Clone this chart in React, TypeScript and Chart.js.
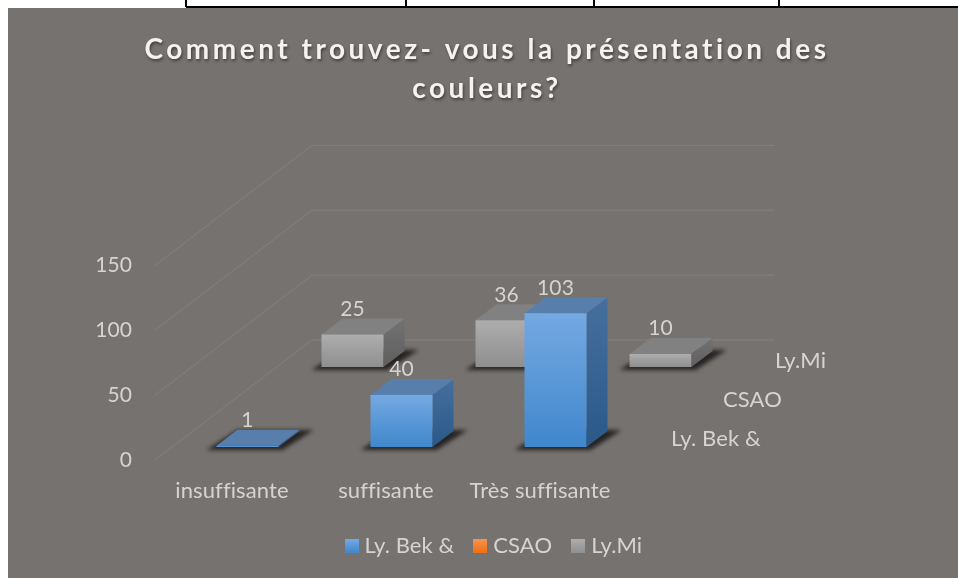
import React, { useEffect, useRef } from "react";
import { Chart, registerables } from "chart.js";

Chart.register(...registerables);

const categories = ["insuffisante", "suffisante", "Très suffisante"];
const seriesNames = ["Ly. Bek &", "CSAO", "Ly.Mi"];
const lyBek = [1, 40, 103];
const csao: (number | null)[] = [null, null, null];
const lyMi = [25, 36, 10];
const chartTitle = ["Comment trouvez- vous la présentation des", "couleurs?"];
const yTicks = { min: 0, max: 150, step: 50 };

const FONT = "Lato, Carlito, 'Open Sans', sans-serif";
const TEXT = "#d6d4d3";
const BG = "#767270";

// 3-D projection, in pixels
const WALL_DX = 157;
const WALL_DY = -120;
const ROW_DX = 52.5;
const ROW_DY = -40;
const BAR_DX = 21;
const BAR_DY = -16;
const FRONT_DX = 15.5;
const FRONT_DY = -13;
const PAD_BOTTOM = 11;

const palette = [
  { light: "#74a9e2", dark: "#4087cc", top: "#587fab", sideA: "#466f9d", sideB: "#29598a" },
  { light: "#f8944f", dark: "#ee6f14", top: "#b0683a", sideA: "#a05a2c", sideB: "#8a4a1c" },
  { light: "#adadad", dark: "#8f8f8f", top: "#818181", sideA: "#727272", sideB: "#5f5f5f" },
];

const rowOffset = (i: number) => ({ dx: FRONT_DX + ROW_DX * i, dy: FRONT_DY + ROW_DY * i });

const swatch = (i: number) => {
  const c = document.createElement("canvas");
  c.width = 14;
  c.height = 14;
  const g = c.getContext("2d") as CanvasRenderingContext2D;
  const grad = g.createLinearGradient(0, 0, 0, 14);
  grad.addColorStop(0, palette[i].light);
  grad.addColorStop(1, palette[i].dark);
  g.fillStyle = grad;
  g.fillRect(0, 0, 14, 14);
  return c;
};

const scene = {
  id: "scene",
  beforeDraw(chart: any) {
    const { ctx, width, height } = chart;
    ctx.letterSpacing = "0.1px";
    ctx.save();
    ctx.fillStyle = "#ffffff";
    ctx.fillRect(0, 0, width, height);
    ctx.fillStyle = BG;
    ctx.fillRect(8, 8, width - 8, height - 8);
    ctx.strokeStyle = "#000000";
    ctx.lineWidth = 2;
    ctx.beginPath();
    ctx.moveTo(186, 7);
    ctx.lineTo(width, 7);
    [186, 406, 594, 779].forEach((x) => {
      ctx.moveTo(x, 0);
      ctx.lineTo(x, 7);
    });
    ctx.stroke();
    ctx.restore();

    const tb = chart.titleBlock;
    if (tb && !tb.__patched) {
      tb.__patched = true;
      const orig = tb.draw;
      tb.draw = function (...a: any[]) {
        const c = this.ctx;
        c.save();
        c.translate(-8, 0);
        c.letterSpacing = "3.5px";
        c.shadowColor = "rgba(0,0,0,0.45)";
        c.shadowBlur = 3;
        c.shadowOffsetX = 1;
        c.shadowOffsetY = 2;
        orig.apply(this, a);
        c.restore();
      };
    }
  },
  beforeDatasetsDraw(chart: any) {
    const { ctx, chartArea } = chart;
    const y = chart.scales.y;
    ctx.save();
    ctx.strokeStyle = "#83807d";
    ctx.lineWidth = 1;
    y.ticks.forEach((t: any) => {
      const py = y.getPixelForValue(t.value);
      ctx.beginPath();
      ctx.moveTo(chartArea.left, py);
      ctx.lineTo(chartArea.left + WALL_DX, py + WALL_DY);
      ctx.lineTo(chartArea.right + WALL_DX, py + WALL_DY);
      ctx.stroke();
    });
    ctx.restore();
  },
  beforeDatasetDraw(chart: any, args: any) {
    const { ctx } = chart;
    const i = args.index;
    const { dx, dy } = rowOffset(i);
    const meta = chart.getDatasetMeta(i);
    const ds = chart.data.datasets[i];
    const pal = palette[i];
    ctx.save();
    ctx.translate(dx, dy);
    meta.data.forEach((el: any, k: number) => {
      if (ds.data[k] == null) return;
      const l = el.x - el.width / 2;
      const r = el.x + el.width / 2;
      const t = el.y;
      const b = el.base;
      // floor shadow
      ctx.save();
      ctx.filter = "blur(2px)";
      ctx.fillStyle = "#262322";
      ctx.beginPath();
      ctx.moveTo(l - 10, b + 3);
      ctx.lineTo(r + 4, b + 3);
      ctx.lineTo(r + BAR_DX + 14, b + BAR_DY - 1);
      ctx.lineTo(l + BAR_DX, b + BAR_DY - 1);
      ctx.closePath();
      ctx.fill();
      ctx.restore();
      // side
      const side = ctx.createLinearGradient(0, t + BAR_DY, 0, b);
      side.addColorStop(0, pal.sideA);
      side.addColorStop(1, pal.sideB);
      ctx.fillStyle = side;
      ctx.beginPath();
      ctx.moveTo(r, t);
      ctx.lineTo(r + BAR_DX, t + BAR_DY);
      ctx.lineTo(r + BAR_DX, b + BAR_DY);
      ctx.lineTo(r, b);
      ctx.closePath();
      ctx.fill();
      // top
      ctx.fillStyle = pal.top;
      ctx.beginPath();
      ctx.moveTo(l, t);
      ctx.lineTo(r, t);
      ctx.lineTo(r + BAR_DX, t + BAR_DY);
      ctx.lineTo(l + BAR_DX, t + BAR_DY);
      ctx.closePath();
      ctx.fill();
    });
  },
  afterDatasetDraw(chart: any) {
    chart.ctx.restore();
  },
  afterDatasetsDraw(chart: any) {
    const { ctx, chartArea } = chart;
    ctx.save();
    ctx.fillStyle = TEXT;
    ctx.font = `21px ${FONT}`;
    ctx.textAlign = "center";
    ctx.textBaseline = "middle";
    chart.data.datasets.forEach((ds: any, i: number) => {
      const { dx, dy } = rowOffset(i);
      chart.getDatasetMeta(i).data.forEach((el: any, k: number) => {
        if (ds.data[k] == null) return;
        ctx.fillText(String(ds.data[k]), el.x + dx, el.y + dy - 25.5);
      });
    });
    ctx.textAlign = "left";
    ctx.font = `22px ${FONT}`;
    seriesNames.forEach((name, i) => {
      const x = chartArea.right + 54 + 52 * i;
      const y = chartArea.bottom - 21 - 39 * i;
      ctx.fillText(name, x, y);
    });
    ctx.restore();
  },
};

const faceFill = (i: number) => (c: any) => {
  const chart = c.chart;
  const pal = palette[i];
  const y = chart.scales.y;
  const v = c.raw;
  if (c.dataIndex === undefined || !y || v == null || !chart.chartArea) return pal.light;
  const g = chart.ctx.createLinearGradient(0, y.getPixelForValue(v), 0, y.getPixelForValue(0));
  g.addColorStop(0, pal.light);
  g.addColorStop(1, pal.dark);
  return g;
};

export default function App() {
  const ref = useRef<HTMLCanvasElement>(null);
  useEffect(() => {
    const chart = new Chart(ref.current as any, {
      type: "bar",
      data: {
        labels: categories,
        datasets: [
          { label: seriesNames[0], data: lyBek, backgroundColor: faceFill(0) as any },
          { label: seriesNames[1], data: csao as any, backgroundColor: faceFill(1) as any },
          { label: seriesNames[2], data: lyMi, backgroundColor: faceFill(2) as any },
        ].map((d) => ({ ...d, grouped: false, barThickness: 62, inflateAmount: 0, clip: false as any })),
      },
      options: {
        responsive: false,
        animation: false,
        layout: { padding: { left: 32, right: 0, top: 0, bottom: PAD_BOTTOM } },
        plugins: {
          title: {
            display: true,
            text: chartTitle,
            color: "#f4f3f2",
            font: { family: FONT, size: 28, weight: "bold", lineHeight: 1.4 },
            padding: { top: 30, bottom: 157 },
          },
          legend: {
            position: "bottom",
            labels: {
              color: TEXT,
              font: { family: FONT, size: 22 },
              usePointStyle: true,
              pointStyleWidth: 4,
              boxHeight: 14,
              padding: 24,
              generateLabels(c: any) {
                return Chart.defaults.plugins.legend.labels
                  .generateLabels(c)
                  .map((item: any, i: number) => ({ ...item, pointStyle: swatch(i) }));
              },
            },
          },
          tooltip: { enabled: false },
        },
        scales: {
          x: {
            grid: { display: false, drawTicks: false },
            border: { display: false },
            ticks: { color: TEXT, font: { family: FONT, size: 22 }, padding: 18, maxRotation: 0, autoSkip: false },
            afterFit(s: any) {
              s.height = 578 - 460 - PAD_BOTTOM - (s.chart.legend ? s.chart.legend.height : 0);
            },
          },
          y: {
            min: yTicks.min,
            max: yTicks.max,
            grid: { display: false, drawTicks: false },
            border: { display: false },
            ticks: { stepSize: yTicks.step, color: TEXT, font: { family: FONT, size: 21 }, padding: 23 },
            afterFit(s: any) {
              s.width = 123;
            },
          },
          spacer: {
            axis: "y",
            position: "right",
            min: yTicks.min,
            max: yTicks.max,
            grid: { display: false, drawTicks: false },
            border: { display: false },
            ticks: { display: false },
            afterFit(s: any) {
              s.width = 341;
            },
          },
        } as any,
      },
      plugins: [scene as any],
    });
    return () => chart.destroy();
  }, []);
  return (
    <div style={{ position: "fixed", left: 0, top: 0, width: 958, height: 578 }}>
      <canvas ref={ref} width={958} height={578} style={{ display: "block" }} />
    </div>
  );
}
